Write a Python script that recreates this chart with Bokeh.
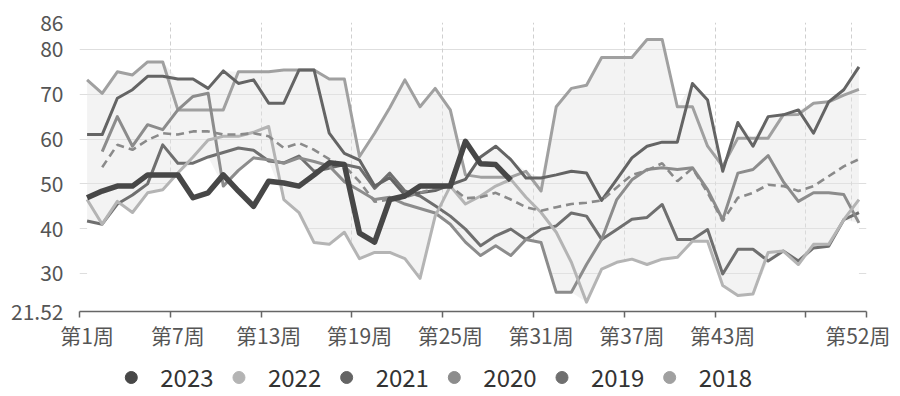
import numpy as np
from bokeh.plotting import figure
from bokeh.layouts import column
from bokeh.models import Range1d, FixedTicker, Grid, ColumnDataSource
from bokeh.core.properties import value
from bokeh.embed import file_html
from bokeh.resources import INLINE

nan = float("nan")

weeks = list(range(1, 53))
years = ["2023", "2022", "2021", "2020", "2019", "2018"]
y_ticks = [21.52, 30, 40, 50, 60, 70, 80, 86]
x_label_weeks = [1, 7, 13, 19, 25, 31, 37, 43, 52]
band_start_weeks = [1, 7, 13, 19, 25, 31, 37, 43, 49, 53]
grid_start_weeks = [1, 7, 13, 19, 25, 31, 37, 43, 49, 52, 53]

v2023 = [46.9, 48.4, 49.5, 49.5, 52.0, 52.0, 52.0, 46.9, 48.0, 52.0, 48.4, 45.0, 50.6,
         50.2, 49.5, 52.0, 54.7, 54.3, 39.0, 37.0, 46.5, 47.3, 49.5, 49.5, 49.5, 59.5,
         54.5, 54.3, 50.8]

v2022 = [46.5, 41.0, 46.1, 43.6, 48.0, 48.7, 52.4, 56.0, 59.8, 60.6, 60.6, 61.5, 62.8,
         46.5, 43.6, 36.9, 36.5, 39.2, 33.3, 34.7, 34.7, 33.3, 28.9, 42.8, 49.5, 45.5,
         47.3, 49.5, 51.0, 47.0, 43.6, 39.2, 32.5, 23.6, 31.0, 32.5, 33.2, 32.0, 33.2,
         33.6, 37.2, 37.2, 27.3, 25.1, 25.4, 34.7, 35.0, 32.0, 36.5, 36.5, 42.0, 46.5]

v2021 = [61.0, 61.0, 69.1, 71.0, 74.0, 74.0, 73.4, 73.4, 71.3, 75.2, 72.4, 73.2, 68.0,
         68.0, 75.4, 75.4, 61.3, 56.8, 55.3, 49.5, 51.4, 47.5, 48.0, 48.5, 49.8, 51.0,
         56.0, 58.4, 55.4, 51.3, 51.3, 52.0, 52.8, 52.4, 46.3, 51.0, 55.8, 58.4, 59.3,
         59.3, 72.4, 68.7, 52.8, 63.7, 58.4, 65.0, 65.4, 66.5, 61.3, 68.3, 71.0, 76.1]

v2020 = [nan, 57.2, 65.0, 58.4, 63.2, 62.1, 66.5, 69.5, 70.2, 49.5, 53.0, 55.8, 55.4,
         54.6, 55.8, 55.0, 54.0, 50.5, 48.5, 46.5, 47.0, 45.5, 44.5, 43.5, 41.0, 37.0,
         34.0, 36.2, 34.0, 37.6, 36.9, 25.8, 25.8, 32.0, 37.6, 46.5, 50.9, 53.2, 53.6,
         53.2, 53.6, 48.7, 42.0, 52.4, 53.2, 56.3, 50.5, 46.1, 48.0, 48.0, 47.6, 41.3]

v2019 = [41.7, 41.0, 45.5, 47.5, 50.0, 58.7, 54.6, 54.6, 56.0, 57.0, 58.0, 57.5, 55.1,
         54.7, 56.2, 52.8, 53.5, 54.3, 53.6, 49.0, 52.4, 48.4, 47.3, 45.1, 42.8, 39.9,
         36.2, 38.4, 39.9, 37.6, 39.9, 40.6, 43.5, 42.8, 37.6, 39.8, 42.1, 42.5, 45.4,
         37.6, 37.6, 39.8, 29.9, 35.4, 35.4, 32.8, 35.0, 32.8, 35.7, 36.1, 42.0, 43.6]

v2018 = [73.2, 70.2, 75.0, 74.3, 77.2, 77.2, 66.5, 66.5, 66.5, 66.5, 75.0, 75.0, 75.0,
         75.4, 75.4, 75.4, 73.4, 73.4, 56.1, 61.3, 67.0, 73.2, 67.2, 71.3, 66.5, 52.0,
         51.5, 51.5, 51.5, 52.8, 48.4, 67.2, 71.3, 72.0, 78.2, 78.2, 78.2, 82.2, 82.2,
         67.2, 67.2, 58.4, 53.9, 60.2, 60.2, 60.2, 65.4, 65.5, 68.0, 68.3, 69.8, 71.1]

v_avg = [nan, 53.7, 58.7, 57.6, 59.8, 61.3, 61.0, 61.7, 61.7, 61.0, 61.0, 61.3, 60.6,
         58.0, 59.1, 57.6, 55.5, 54.0, 50.5, 46.0, 46.5, 47.0, 48.0, 49.0, 49.5, 46.8,
         47.0, 48.0, 46.5, 44.8, 44.0, 44.8, 45.5, 45.8, 46.3, 49.2, 52.0, 53.0, 54.6,
         50.6, 53.5, 48.0, 41.7, 46.9, 48.0, 49.8, 49.5, 48.4, 49.5, 51.7, 53.9, 55.5]

colors = {"2023": "#474747", "2022": "#b4b4b4", "2021": "#646464",
          "2020": "#8c8c8c", "2019": "#6f6f6f", "2018": "#a0a0a0"}

past = {"2022": v2022, "2021": v2021, "2020": v2020, "2019": v2019, "2018": v2018}
stack = np.array([past[k] for k in past], dtype=float)
lo = np.nanmin(stack, axis=0)
hi = np.nanmax(stack, axis=0)

y_min, y_max = y_ticks[0], y_ticks[-1]
FONT = "Noto Sans CJK SC"
BL, BR = 79, 24   # left / right borders shared by both strips

p = figure(width=890, height=352, x_range=Range1d(0.5, 52.5), y_range=Range1d(y_min, y_max),
           output_backend="svg", toolbar_location=None,
           min_border_left=BL, min_border_right=BR, min_border_top=22, min_border_bottom=39)
p.outline_line_color = None
p.background_fill_color = "white"
p.border_fill_color = "white"

# grids
p.xgrid.visible = False
p.ygrid.ticker = FixedTicker(ticks=y_ticks[1:])
p.ygrid.grid_line_color = "#dedede"
p.ygrid.grid_line_width = 1
p.add_layout(Grid(dimension=0, ticker=FixedTicker(ticks=[w - 0.5 for w in grid_start_weeks]),
                  grid_line_color="#cfcfcf", grid_line_dash="4 3", grid_line_width=1))

# band: white below min, light grey between min and max
p.varea(x=weeks, y1=[y_min] * len(weeks), y2=lo, fill_color="white")
p.varea(x=weeks, y1=lo, y2=hi, fill_color="#e4e4e4", fill_alpha=0.45)

# past years
for yr in ["2018", "2019", "2020", "2022", "2021"]:
    p.line(weeks, past[yr], line_color=colors[yr], line_width=3, line_join="round")

# average
p.line(weeks, v_avg, line_color="#8a8a8a", line_width=2.6, line_dash="8 5")

# 2023
p.line(weeks[:len(v2023)], v2023, line_color=colors["2023"], line_width=5.5, line_join="round")

# axes
xa = p.xaxis[0]
xa.ticker = FixedTicker(ticks=x_label_weeks, minor_ticks=[w - 0.5 for w in band_start_weeks])
xa.major_label_overrides = {w: f"第{w}周" for w in x_label_weeks}
xa.major_tick_line_color = None
xa.major_tick_out = 6
xa.major_tick_in = 0
xa.minor_tick_out = 6
xa.minor_tick_in = 0
xa.minor_tick_line_color = "#666666"
xa.minor_tick_line_width = 1.5
xa.axis_line_color = "#666666"
xa.axis_line_width = 1.5
xa.major_label_standoff = 2

ya = p.yaxis[0]
ya.ticker = FixedTicker(ticks=y_ticks)
ya.major_label_overrides = {t: f"{t:g}" for t in y_ticks}
ya.axis_line_color = None
ya.major_tick_line_color = None
ya.minor_tick_line_color = None
ya.major_tick_out = 0
ya.major_label_standoff = 16

for ax in (xa, ya):
    ax.major_label_text_font = FONT
    ax.major_label_text_font_size = "21px"
    ax.major_label_text_color = "#555555"

# legend strip: one slot per year (slot index on x)
slot = list(range(len(years)))
pl = figure(width=890, height=42, x_range=Range1d(-0.481, 6.828), y_range=Range1d(-17, 25),
            output_backend="svg", toolbar_location=None,
            min_border_left=BL, min_border_right=BR, min_border_top=0, min_border_bottom=0,
            x_axis_type=None, y_axis_type=None)
pl.outline_line_color = None
pl.xgrid.visible = False
pl.ygrid.visible = False
leg = ColumnDataSource(dict(slot=slot, year=years, y=[0] * len(years),
                            color=[colors[y] for y in years]))
pl.scatter(x="slot", y="y", source=leg, marker="circle", size=12, fill_color="color", line_color="color")
pl.text(x="slot", y="y", text="year", source=leg, x_offset=29, text_align="left",
        text_baseline="middle", text_font=value(FONT), text_font_size="24px", text_color="#333333")

open("out.html", "w").write(file_html(column(p, pl, spacing=0), INLINE))
